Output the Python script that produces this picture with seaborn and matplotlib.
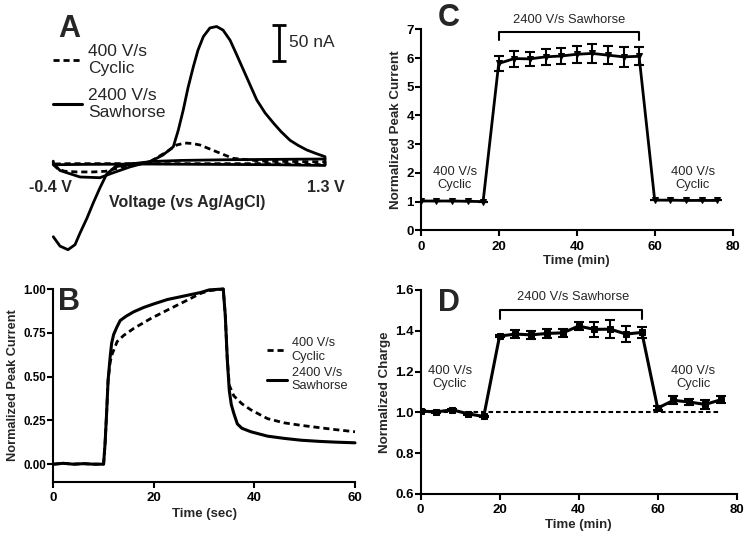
import matplotlib
matplotlib.use("Agg")
import matplotlib.pyplot as plt
import seaborn as sns
import numpy as np
from matplotlib.lines import Line2D

# ---------------- data ----------------
# Panel A: cyclic voltammograms (V vs Ag/AgCl, current in nA)
saw_main_v = [-0.40, -0.358, -0.308, -0.264, -0.233, -0.189, -0.150, -0.108, -0.066, -0.014, 0.080,
              0.205, 0.286, 0.351, 0.382, 0.413, 0.443, 0.476, 0.505, 0.539, 0.580, 0.622, 0.662,
              0.706, 0.743, 0.789, 0.831, 0.873, 0.925, 0.977, 1.025, 1.081, 1.131, 1.186, 1.244,
              1.30, 1.30, 1.00, 0.60, 0.20, -0.20, -0.40, -0.40]
saw_main_i = [-102, -115, -120, -113, -97, -76, -55, -34, -15, -5, -1,
              2.2, 11.5, 23, 46, 74, 105, 134, 157, 176, 188, 190, 185,
              171, 153, 130, 109, 88, 70, 56, 44, 32, 25, 18.5, 13.6,
              9.2, -3, -2, -1.5, -1, -1.5, -2, 3]
saw_dip_v = [-0.40, -0.358, -0.233, -0.108, -0.03, 0.080, 0.205, 0.40, 0.70, 1.00, 1.30]
saw_dip_i = [0, -10, -19, -20, -13.5, -5, 2.5, 4, 5, 5.5, 6]
cyc_v = [-0.40, -0.37, -0.33, -0.25, -0.15, -0.07, 0.036, 0.205, 0.310, 0.372, 0.424, 0.470,
         0.518, 0.622, 0.724, 0.893, 1.10, 1.30, 1.30, 0.90, 0.50, 0.10, -0.30, -0.40, -0.40]
cyc_i = [-2, -8, -11, -12, -12, -11, -4.7, 2.3, 16, 25.4, 28.2, 27.5,
         25.4, 16, 6.9, 3.2, 2.5, 2, -2, -0.5, -0.5, -0.5, -0.5, -1, -2]
scale_bar_na = 50

# Panel B: normalized peak current vs time (sec)
saw_t = [0, 2, 4, 6, 8, 10.0, 10.3, 10.6, 10.9, 11.3, 11.6, 12.0, 12.6, 13.3, 14.5, 16, 18, 20,
         22.7, 26, 29.3, 31, 33.8, 34.2, 34.6, 35.0, 35.4, 35.9, 36.6, 37.5, 39.3, 42.6, 46, 49.2,
         53, 56, 60]
saw_y = [0, 0.005, 0, 0.003, 0, 0, 0.12, 0.29, 0.48, 0.61, 0.69, 0.74, 0.78, 0.82, 0.845, 0.87,
         0.895, 0.915, 0.94, 0.96, 0.98, 0.995, 1.0, 0.85, 0.6, 0.42, 0.34, 0.29, 0.23, 0.205, 0.185,
         0.16, 0.147, 0.137, 0.13, 0.126, 0.122]
cyc_t = [0, 2, 4, 6, 8, 10.0, 10.3, 10.6, 10.9, 11.3, 11.6, 12.0, 12.7, 14, 16, 19.3, 22.7, 26,
         29.3, 31, 33.8, 34.2, 34.6, 35.0, 35.9, 37.5, 39.3, 42.6, 45.9, 49.2, 52.5, 55.9, 60]
cyc_y = [0, 0.005, 0, 0.003, 0, 0, 0.12, 0.29, 0.48, 0.58, 0.62, 0.65, 0.70, 0.735, 0.775, 0.83,
         0.88, 0.927, 0.975, 0.99, 1.0, 0.85, 0.6, 0.45, 0.39, 0.345, 0.31, 0.26, 0.236, 0.222,
         0.21, 0.198, 0.185]

# Panels C and D: time in minutes
time_min = [0, 4, 8, 12, 16, 20, 24, 28, 32, 36, 40, 44, 48, 52, 56, 60, 64, 68, 72, 76]
peak_mean = [1.02, 1.02, 1.02, 1.01, 1.0, 5.81, 5.98, 5.97, 6.04, 6.07, 6.13, 6.16, 6.10, 6.04,
             6.06, 1.05, 1.05, 1.04, 1.04, 1.04]
peak_err = [0, 0, 0, 0, 0, 0.27, 0.28, 0.25, 0.29, 0.28, 0.29, 0.33, 0.32, 0.35, 0.31,
            0, 0, 0, 0, 0]
charge_mean = [1.007, 1.002, 1.013, 0.993, 0.98, 1.374, 1.384, 1.380, 1.387, 1.39, 1.423, 1.407,
               1.408, 1.384, 1.392, 1.021, 1.059, 1.051, 1.039, 1.062]
charge_err = [0.004, 0.004, 0.006, 0.004, 0.004, 0.005, 0.02, 0.02, 0.02, 0.019, 0.02, 0.037,
              0.043, 0.038, 0.027, 0.01, 0.02, 0.015, 0.02, 0.018]

# ---------------- style ----------------
sns.set_style("ticks")
plt.rcParams['font.family'] = ['Liberation Sans', 'DejaVu Sans']
plt.rcParams['axes.linewidth'] = 1.5

fig = plt.figure(figsize=(7.5, 5.41), dpi=100)
W, H = 750.0, 541.0


def add_ax(left, top, right, bottom):
    return fig.add_axes([left / W, 1 - bottom / H, (right - left) / W, (bottom - top) / H])


def style_axis(ax, xsize, ysize):
    sns.despine(ax=ax)
    ax.tick_params(direction='out', length=4, width=1.5, colors='black')
    ax.tick_params(axis='x', labelsize=xsize)
    ax.tick_params(axis='y', labelsize=ysize, pad=1)
    for lab in ax.get_xticklabels() + ax.get_yticklabels():
        lab.set_fontweight('bold')
    for s in ax.spines.values():
        s.set_linewidth(1.5)
        s.set_color('black')


dash = (0, (2.2, 1.4))

# ---------------- Panel A ----------------
axA = add_ax(53.3, 0, 325, 260)
axA.set_xlim(-0.4, 1.3)
axA.set_ylim(-134.3, 226.8)
axA.axis('off')
sns.lineplot(x=saw_main_v, y=saw_main_i, sort=False, estimator=None, color='black', lw=2,
             ax=axA, clip_on=False)
sns.lineplot(x=saw_dip_v, y=saw_dip_i, sort=False, estimator=None, color='black', lw=2,
             ax=axA, clip_on=False)
sns.lineplot(x=cyc_v, y=cyc_i, sort=False, estimator=None, color='black', lw=2,
             linestyle=dash, ax=axA, clip_on=False)
axA.errorbar([1.014], [167.1], yerr=[scale_bar_na / 2], fmt='none', ecolor='black',
             elinewidth=2, capsize=4.7, capthick=2)
axA.text(1.075, 167.1, f"{scale_bar_na} nA", fontsize=12.5, va='center', ha='left')
axA.text(-0.421, -34.3, "-0.4 V", fontsize=11.5, fontweight='bold', ha='center', va='center')
axA.text(1.306, -34.3, "1.3 V", fontsize=11.5, fontweight='bold', ha='center', va='center')
axA.text(0.44, -55.1, "Voltage (vs Ag/AgCl)", fontsize=11.5, fontweight='bold',
         ha='center', va='center')
hA = [Line2D([], [], color='black', lw=2, linestyle=dash),
      Line2D([], [], color='black', lw=2.2)]
fig.legend(hA, ["400 V/s\nCyclic", "2400 V/s\nSawhorse"], loc='upper left',
           bbox_to_anchor=(53 / W, 1 - 44 / H), frameon=False, fontsize=12.5,
           handlelength=1.67, handletextpad=0.35, labelspacing=0.65, borderpad=0,
           borderaxespad=0)
fig.text(58 / W, 1 - 37 / H, "A", fontsize=22, fontweight='bold', va='baseline', ha='left')

# ---------------- Panel B ----------------
axB = add_ax(53.3, 289, 355, 481.7)
sns.lineplot(x=cyc_t, y=cyc_y, color='black', lw=2, linestyle=dash, ax=axB, clip_on=False,
             label="400 V/s\nCyclic")
sns.lineplot(x=saw_t, y=saw_y, color='black', lw=2.2, ax=axB, clip_on=False,
             label="2400 V/s\nSawhorse")
axB.set_xlim(0, 60)
axB.set_ylim(-0.1, 1.0)
axB.set_xticks([0, 20, 40, 60])
axB.set_yticks([0, 0.25, 0.5, 0.75, 1.0])
axB.set_yticklabels(["0.00", "0.25", "0.50", "0.75", "1.00"])
axB.set_xlabel("Time (sec)", fontsize=9.5, fontweight='bold', labelpad=3)
axB.set_ylabel("Normalized Peak Current", fontsize=9.2, fontweight='bold', labelpad=3)
style_axis(axB, 9.5, 8.3)
axB.legend(loc='upper left', bbox_to_anchor=((266.7 - 53.3) / 301.7, (481.7 - 337) / 192.7),
           frameon=False, fontsize=9.2, handlelength=1.55, handletextpad=0.4,
           labelspacing=0.3, borderpad=0, borderaxespad=0)
fig.text(58 / W, 1 - 310 / H, "B", fontsize=22, fontweight='bold', va='baseline', ha='left')

# ---------------- Panel C ----------------
axC = add_ax(420.7, 29.3, 732.7, 230.3)
axC.errorbar(time_min, peak_mean, yerr=peak_err, fmt='none', ecolor='black', elinewidth=1.5,
             capsize=3.5, capthick=1.5)
sns.lineplot(x=time_min, y=peak_mean, color='black', lw=2, marker='v', markersize=5,
             markeredgecolor='black', ax=axC)
axC.set_xlim(0, 80)
axC.set_ylim(0, 7)
axC.set_xticks([0, 20, 40, 60, 80])
axC.set_yticks(range(0, 8))
axC.set_xlabel("Time (min)", fontsize=9.5, fontweight='bold', labelpad=2)
axC.set_ylabel("Normalized Peak Current", fontsize=9.6, fontweight='bold', labelpad=3)
style_axis(axC, 9.5, 9.5)
axC.plot([20, 20, 56, 56], [6.63, 6.9, 6.9, 6.63], color='black', lw=1.5, clip_on=False)
axC.text(38, 7.33, "2400 V/s Sawhorse", fontsize=9.3, ha='center', va='center')
axC.text(8.7, 1.8, "400 V/s\nCyclic", fontsize=9.3, ha='center', va='center', linespacing=1.15)
axC.text(69.8, 1.8, "400 V/s\nCyclic", fontsize=9.3, ha='center', va='center', linespacing=1.15)
fig.text(438 / W, 1 - 26.5 / H, "C", fontsize=22, fontweight='bold', va='baseline', ha='left')

# ---------------- Panel D ----------------
axD = add_ax(420.5, 290, 736.7, 494)
axD.errorbar(time_min, charge_mean, yerr=charge_err, fmt='none', ecolor='black',
             elinewidth=1.5, capsize=3.5, capthick=1.5)
sns.lineplot(x=time_min, y=charge_mean, color='black', lw=2.2, marker='s', markersize=4,
             markeredgecolor='black', ax=axD)
axD.plot([time_min[0], time_min[-1]], [1.0, 1.0], color='black', lw=1.5, linestyle=dash)
axD.set_xlim(0, 80)
axD.set_ylim(0.6, 1.6)
axD.set_xticks([0, 20, 40, 60, 80])
axD.set_yticks([0.6, 0.8, 1.0, 1.2, 1.4, 1.6])
axD.set_xlabel("Time (min)", fontsize=9.5, fontweight='bold', labelpad=2)
axD.set_ylabel("Normalized Charge", fontsize=9.6, fontweight='bold', labelpad=3)
style_axis(axD, 9.5, 9.5)
axD.plot([20, 20, 56, 56], [1.46, 1.502, 1.502, 1.46], color='black', lw=1.5, clip_on=False)
axD.text(38.5, 1.564, "2400 V/s Sawhorse", fontsize=9.3, ha='center', va='center')
axD.text(7.4, 1.171, "400 V/s\nCyclic", fontsize=9.3, ha='center', va='center', linespacing=1.15)
axD.text(69, 1.171, "400 V/s\nCyclic", fontsize=9.3, ha='center', va='center', linespacing=1.15)
fig.text(438 / W, 1 - 311 / H, "D", fontsize=22, fontweight='bold', va='baseline', ha='left')

fig.savefig("out.png", dpi=100)
